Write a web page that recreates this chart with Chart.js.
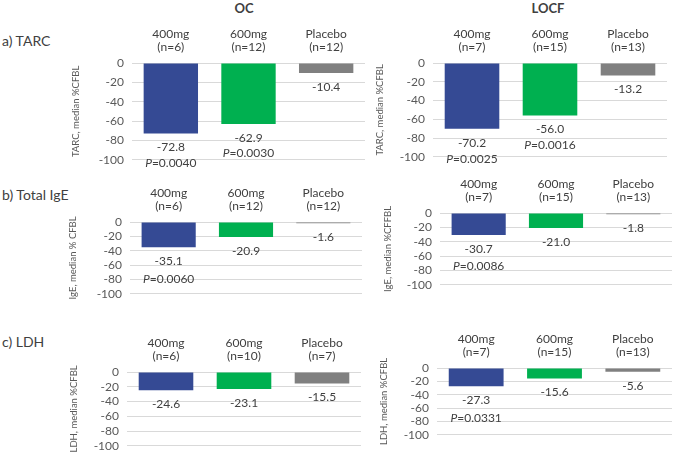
<!DOCTYPE html>
<html><head><meta charset="utf-8">
<script src="https://cdn.jsdelivr.net/npm/chart.js@4.4.1/dist/chart.umd.min.js"></script>
<style>
body{margin:0;width:676px;height:462px;overflow:hidden;background:#fff;position:relative;font-family:Lato,sans-serif;}
.txt{position:absolute;color:#404040;white-space:nowrap;line-height:1.2;}
.hdr{position:absolute;width:100px;text-align:center;font-weight:bold;font-size:13px;color:#404040;line-height:16px;}
</style></head><body>
<div class="hdr" style="left:194px;top:0px">OC</div>
<div class="hdr" style="left:498px;top:0px">LOCF</div>
<div class="txt" style="left:2px;top:33px;font-size:14px">a) TARC</div>
<div class="txt" style="left:2px;top:187px;font-size:14px">b) Total IgE</div>
<div class="txt" style="left:2px;top:334px;font-size:14px">c) LDH</div>
<script>
// ---- data ----
const doses = ['400mg', '600mg', 'Placebo'];
const yTicks = [0, -20, -40, -60, -80, -100];

const nTarcOC = [6, 12, 12];
const nTarcLOCF = [7, 15, 13];
const nIgeOC = [6, 12, 12];
const nIgeLOCF = [7, 15, 13];
const nLdhOC = [6, 10, 7];
const nLdhLOCF = [7, 15, 13];

const tarcOC = [-72.8, -62.9, -10.4];
const tarcLOCF = [-70.2, -56.0, -13.2];
const igeOC = [-35.1, -20.9, -1.6];
const igeLOCF = [-30.7, -21.0, -1.8];
const ldhOC = [-24.6, -23.1, -15.5];
const ldhLOCF = [-27.3, -15.6, -5.6];

const pTarcOC = ['0.0040', '0.0030', null];
const pTarcLOCF = ['0.0025', '0.0016', null];
const pIgeOC = ['0.0060', null, null];
const pIgeLOCF = ['0.0086', null, null];
const pLdhOC = [null, null, null];
const pLdhLOCF = ['0.0331', null, null];

const titleTarc = 'TARC, median %CFBL';
const titleIgeOC = 'IgE, median % CFBL';
const titleIgeLOCF = 'IgE, median %CFFBL';
const titleLdh = 'LDH, median %CFBL';

// ---- styles / layout ----
const barColors = ['#354A94', '#00B050', '#808080'];
const FONT = 'Lato';

const panels = [
  {values: tarcOC,  n: nTarcOC,  p: pTarcOC,  title: titleTarc,    titleX: 75,  L: 132, R: 365, T: 63,  B: 161, padB: 14, pOff: 29.5},
  {values: tarcLOCF,n: nTarcLOCF,p: pTarcLOCF,title: titleTarc,    titleX: 379, L: 433, R: 667, T: 63,  B: 158, padB: 14, pOff: 30},
  {values: igeOC,   n: nIgeOC,   p: pIgeOC,   title: titleIgeOC,   titleX: 72,  L: 130, R: 362, T: 222, B: 303, padB: 6,  pOff: 32},
  {values: igeLOCF, n: nIgeLOCF, p: pIgeLOCF, title: titleIgeLOCF, titleX: 387, L: 440, R: 672, T: 213, B: 294, padB: 6,  pOff: 31},
  {values: ldhOC,   n: nLdhOC,   p: pLdhOC,   title: titleLdh,     titleX: 73,  L: 127, R: 361, T: 372, B: 456, padB: 5,  pOff: 32},
  {values: ldhLOCF, n: nLdhLOCF, p: pLdhLOCF, title: titleLdh,     titleX: 383, L: 437, R: 672, T: 368, B: 444, padB: 6,  pOff: 32}
];

function labelPlugin(values, ps, pOff) {
  return {
    id: 'vals',
    afterDatasetsDraw(chart) {
      const ctx = chart.ctx;
      const meta = chart.getDatasetMeta(0);
      ctx.save();
      ctx.fillStyle = '#404040';
      ctx.textBaseline = 'middle';
      ctx.textAlign = 'left';
      meta.data.forEach((bar, i) => {
        const txt = values[i].toFixed(1);
        ctx.font = '12px ' + FONT;
        const w = ctx.measureText(txt).width;
        ctx.fillText(txt, bar.x - w / 2, bar.y + 14);
        if (ps[i]) {
          const rest = '=' + ps[i];
          ctx.font = 'italic 12px ' + FONT;
          const wp = ctx.measureText('P').width;
          ctx.font = '12px ' + FONT;
          const wr = ctx.measureText(rest).width;
          const x0 = bar.x - (wp + wr) / 2;
          ctx.font = 'italic 12px ' + FONT;
          ctx.fillText('P', x0, bar.y + pOff);
          ctx.font = '12px ' + FONT;
          ctx.fillText(rest, x0 + wp, bar.y + pOff);
        }
      });
      ctx.restore();
    }
  };
}

panels.forEach(cfg => {
  const left = cfg.titleX - 5;
  const top = cfg.T - 40;
  const w = cfg.R - left;
  const h = cfg.B - top + cfg.padB;
  const div = document.createElement('div');
  div.style.cssText = `position:absolute;left:${left}px;top:${top}px;width:${w}px;height:${h}px`;
  const canvas = document.createElement('canvas');
  div.appendChild(canvas);
  document.body.appendChild(div);
  new Chart(canvas, {
    type: 'bar',
    data: {
      labels: doses.map((d, i) => [d, '(n=' + cfg.n[i] + ')']),
      datasets: [{data: cfg.values, backgroundColor: barColors, barPercentage: 0.7, categoryPercentage: 1}]
    },
    options: {
      responsive: true, maintainAspectRatio: false, animation: false,
      layout: {padding: {left: 0, right: 0, top: 0, bottom: cfg.padB}},
      plugins: {legend: {display: false}, tooltip: {enabled: false}},
      scales: {
        x: {
          position: 'top',
          grid: {display: false, drawTicks: false},
          border: {display: false},
          ticks: {color: '#404040', font: {family: FONT, size: 12, lineHeight: 1.1}, padding: 9, maxRotation: 0, autoSkip: false},
          afterFit(s) { s.height = 40; }
        },
        y: {
          min: yTicks[yTicks.length - 1], max: yTicks[0],
          afterBuildTicks(s) { s.ticks = yTicks.map(v => ({value: v})); },
          ticks: {color: '#595959', font: {family: FONT, size: 12}, padding: 8, autoSkip: false},
          grid: {color: '#D9D9D9', drawTicks: false},
          border: {display: false},
          title: {display: true, text: cfg.title, color: '#595959', font: {family: FONT, size: 9.5}, padding: 0},
          afterFit(s) { s.width = cfg.L - left; }
        }
      }
    },
    plugins: [labelPlugin(cfg.values, cfg.p, cfg.pOff)]
  });
});
</script>
</body></html>
